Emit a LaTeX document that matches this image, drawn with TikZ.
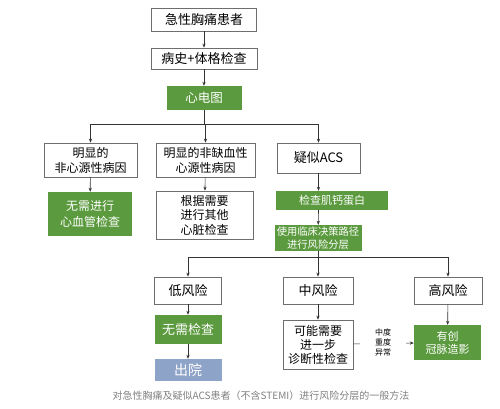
\documentclass[tikz,border=0pt]{standalone}
\usepackage{fontspec}
\setmainfont{Noto Sans CJK SC}
\usetikzlibrary{arrows.meta}
\definecolor{ecggreen}{HTML}{5B9A3E}
\definecolor{homeblue}{HTML}{8EA3C8}
\definecolor{framegray}{HTML}{6E6E6E}
\newcommand{\fs}[2]{\fontsize{#1}{#2}\selectfont}

\begin{document}
\begin{tikzpicture}[x=1pt, y=-1pt, font=\fs{12}{15},
  wbox/.style={draw=framegray, line width=0.7pt, fill=white, align=center, inner sep=0pt},
  gbox/.style={fill=ecggreen, text=white, align=center, inner sep=0pt},
  arr/.style={-{Stealth[length=4pt,width=3.2pt]}, line width=0.6pt, draw=black!80},
  link/.style={line width=0.6pt, draw=black!80}]
\useasboundingbox (0,0) rectangle (500,409);
% top chain
\node[wbox, minimum width=105pt, minimum height=23pt, font=\fs{13}{15}] (start) at (204,19.5) {急性胸痛患者};
\node[wbox, minimum width=106pt, minimum height=21pt, font=\fs{13}{15}] (exam) at (204,58.5) {病史+体格检查};
\node[gbox, minimum width=75pt, minimum height=24pt, font=\fs{12.5}{15}] (ecg) at (204,98) {心电图};
\draw[arr] (start) -- (exam);
\draw[arr] (exam) -- (ecg);
% first split
\node[wbox, minimum width=93pt, minimum height=34pt] (noncard) at (90.5,160) {明显的\\非心源性病因};
\node[wbox, minimum width=99pt, minimum height=34pt] (nonisch) at (205.5,160) {明显的非缺血性\\心源性病因};
\node[wbox, minimum width=83pt, minimum height=30pt, font=\fs{13}{15}] (acs) at (318.5,158) {疑似ACS};
\coordinate (split1) at (204,124);
\draw[link] (ecg) -- (split1);
\draw[link] (split1 -| noncard) -- (split1 -| acs);
\foreach \n in {noncard,nonisch,acs} \draw[arr] (split1 -| \n) -- (\n);
\node[gbox, minimum width=84pt, minimum height=44pt, font=\fs{12}{16}] (nocv) at (90,214) {无需进行\\心血管检查};
\node[wbox, minimum width=97pt, minimum height=48pt, font=\fs{12}{14.5}] (other) at (204.5,215) {根据需要\\进行其他\\心脏检查};
\node[gbox, minimum width=112pt, minimum height=19pt, font=\fs{11}{13}] (trop) at (332,200.5) {检查肌钙蛋白};
\node[gbox, minimum width=87pt, minimum height=26pt, font=\fs{10.3}{12.5}] (strat) at (318,238) {使用临床决策路径\\进行风险分层};
\draw[arr] (noncard) -- (nocv);
\draw[arr] (nonisch) -- (other);
\draw[arr] (acs) -- (acs |- trop.north);
\draw[arr] (acs |- trop.south) -- (strat);
% risk levels
\node[wbox, minimum width=67pt, minimum height=27pt, font=\fs{13}{15}] (low) at (188,290.5) {低风险};
\node[wbox, minimum width=70pt, minimum height=27pt, font=\fs{13}{15}] (mid) at (318,290.5) {中风险};
\node[wbox, minimum width=68pt, minimum height=27pt, font=\fs{13}{15}] (high) at (448,290.5) {高风险};
\coordinate (split2) at (318,257);
\draw[link] (strat) -- (split2);
\draw[link] (split2 -| low) -- (split2 -| high);
\foreach \n in {low,mid,high} \draw[arr] (split2 -| \n) -- (\n);
\node[gbox, minimum width=67pt, minimum height=29pt, font=\fs{13}{15}] (notest) at (188,329.5) {无需检查};
\node[fill=homeblue, text=white, inner sep=0pt, minimum width=67pt, minimum height=22pt, font=\fs{14}{16}] (home) at (188,370) {出院};
\node[wbox, minimum width=70pt, minimum height=49pt, font=\fs{12}{14}] (diag) at (318,344.5) {可能需要\\进一步\\诊断性检查};
\node[gbox, minimum width=67pt, minimum height=35pt, font=\fs{11}{13}] (invas) at (447.5,342.5) {有创\\冠脉造影};
\draw[arr] (low) -- (notest);
\draw[arr] (notest) -- (home);
\draw[arr] (mid) -- (diag);
\draw[arr] (high) -- (invas);
\draw[arr] (diag) -- (invas);
\node[fill=white, inner sep=0pt, minimum width=46pt, align=center, font=\fs{8}{10}] (abn) at (383,342) {中度\\重度\\异常};
% caption
\node[text=gray, font=\fs{10}{12}] (caption) at (261,396) {对急性胸痛及疑似ACS患者（不含STEMI）进行风险分层的一般方法};
\end{tikzpicture}
\end{document}
